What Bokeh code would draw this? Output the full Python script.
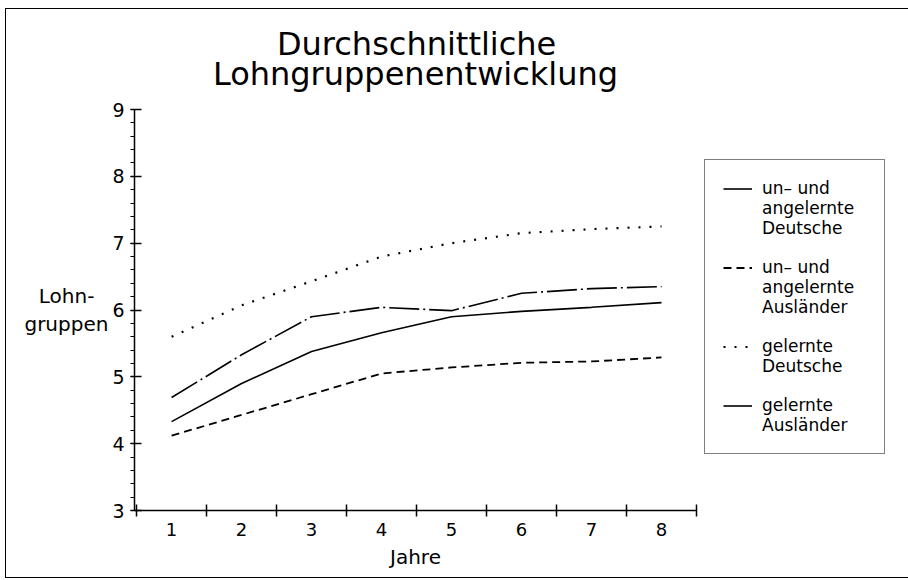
from bokeh.plotting import figure
from bokeh.models import Range1d, FixedTicker, Legend, LegendItem
from bokeh.embed import file_html
from bokeh.resources import INLINE

# ---- data ----
jahre = [1, 2, 3, 4, 5, 6, 7, 8]
un_deutsche = [4.33, 4.90, 5.38, 5.66, 5.90, 5.98, 6.04, 6.11]
un_auslaender = [4.12, 4.43, 4.74, 5.05, 5.14, 5.21, 5.23, 5.29]
gel_deutsche = [5.60, 6.07, 6.43, 6.80, 7.00, 7.15, 7.21, 7.25]
gel_auslaender = [4.69, 5.33, 5.90, 6.04, 5.99, 6.25, 6.32, 6.35]

title_lines = ["Durchschnittliche", "Lohngruppenentwicklung"]
series_labels = [["un– und", "angelernte", "Deutsche"],
                 ["un– und", "angelernte", "Ausländer"],
                 ["gelernte", "Deutsche"],
                 ["gelernte", "Ausländer"]]
y_ticks = [3, 4, 5, 6, 7, 8, 9]
y_minor = [round(3 + i * 0.2, 2) for i in range(31)]
x_minor = [0.5, 1.5, 2.5, 3.5, 4.5, 5.5, 6.5, 7.5, 8.5]

FONT = "DejaVu Sans"

p = figure(frame_width=562, frame_height=401,
           output_backend="svg", toolbar_location=None,
           x_range=Range1d(0.47, 8.5), y_range=Range1d(3, 9),
           min_border_left=128, min_border_right=208,
           min_border_top=100, min_border_bottom=67,
           styles={"border": "1.5px solid black", "margin": "8px 0 0 5px"})
p.outline_line_color = None
p.grid.visible = False
p.background_fill_color = "white"
p.border_fill_color = "white"

# title: two lines; the first is padded with em spaces so it sits centred
p.title.text = "\u2003\u2003" + title_lines[0] + "\n" + title_lines[1]
p.title.align = "center"
p.title.vertical_align = "top"
p.title.text_font = FONT
p.title.text_font_size = "32px"
p.title.text_font_style = "normal"
p.title.text_color = "black"
p.title.text_line_height = 0.81
p.title.standoff = 28

# x axis
xa = p.xaxis[0]
xa.ticker = FixedTicker(ticks=jahre, minor_ticks=x_minor)
xa.major_tick_line_color = None
xa.major_tick_out = 0
xa.major_tick_in = 0
xa.minor_tick_in = 6
xa.minor_tick_out = 6
xa.minor_tick_line_color = "black"
xa.minor_tick_line_width = 1.5
xa.axis_line_width = 1.5
xa.axis_line_color = "black"
xa.major_label_text_font = FONT
xa.major_label_text_font_size = "18px"
xa.major_label_text_color = "black"
xa.major_label_standoff = 6
xa.axis_label = "Jahre"
xa.axis_label_text_font = FONT
xa.axis_label_text_font_style = "normal"
xa.axis_label_text_font_size = "20px"
xa.axis_label_text_color = "black"
xa.axis_label_standoff = 6

# y axis
ya = p.yaxis[0]
ya.ticker = FixedTicker(ticks=y_ticks, minor_ticks=y_minor)
ya.major_tick_in = 7
ya.major_tick_out = 4
ya.minor_tick_in = 0
ya.minor_tick_out = 4
ya.major_tick_line_width = 1.5
ya.minor_tick_line_width = 1.2
ya.major_tick_line_color = "black"
ya.minor_tick_line_color = "black"
ya.axis_line_width = 1.5
ya.axis_line_color = "black"
ya.major_label_text_font = FONT
ya.major_label_text_font_size = "19px"
ya.major_label_text_color = "black"
ya.major_label_standoff = 6
ya.axis_label = "Lohn-\u2002\u2009\ngruppen"
ya.axis_label_orientation = "horizontal"
ya.axis_label_text_font = FONT
ya.axis_label_text_font_style = "normal"
ya.axis_label_text_font_size = "20px"
ya.axis_label_text_color = "black"
ya.axis_label_standoff = 1

# lines
r1 = p.line(jahre, un_deutsche, line_color="black", line_width=1.6)
r2 = p.line(jahre, un_auslaender, line_color="black", line_width=1.8,
            line_dash="8 5")
r3 = p.line(jahre, gel_deutsche, line_color="black", line_width=2.2,
            line_dash="2 9")
r4 = p.line(jahre, gel_auslaender, line_color="black", line_width=1.6,
            line_dash="30 4 2 4")

# invisible helper renderer used only for continuation lines of the legend
blank = p.line([], [], line_alpha=0)

items = []
for k, (lines, r) in enumerate(zip(series_labels, [r1, r2, r3, r4])):
    items.append(LegendItem(label=lines[0], renderers=[r]))
    for extra in lines[1:]:
        items.append(LegendItem(label=extra, renderers=[blank]))
    if k < len(series_labels) - 1:
        items.append(LegendItem(label=" ", renderers=[blank]))

legend = Legend(items=items,
                location=(8, 56), orientation="vertical",
                border_line_color="black", border_line_width=1.5,
                background_fill_color="white", background_fill_alpha=1,
                label_text_font=FONT, label_text_font_size="17px",
                label_text_color="black", label_height=19, label_width=104,
                glyph_width=29, glyph_height=19, label_standoff=10,
                spacing=0, padding=18, margin=0)
p.add_layout(legend, "right")

open("out.html", "w").write(file_html(p, INLINE))
